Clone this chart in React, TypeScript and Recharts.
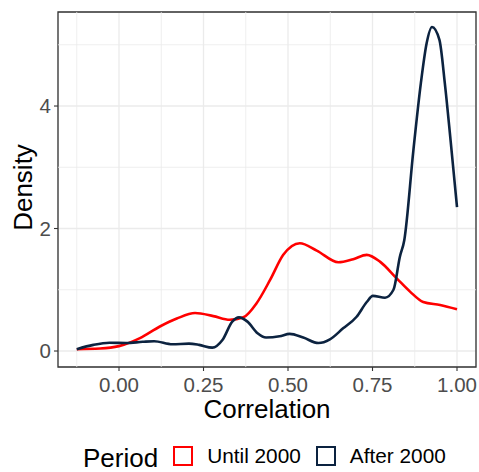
import { LineChart, Line, XAxis, YAxis, CartesianGrid, ReferenceLine, ReferenceArea } from "recharts";

const untilX = [-0.125, -0.056, 0.0, 0.062, 0.121, 0.171, 0.225, 0.279, 0.328, 0.368, 0.407, 0.447, 0.486, 0.535, 0.585, 0.649, 0.693, 0.733, 0.772, 0.821, 0.861, 0.9, 0.95, 1.0];
const untilY = [0.03, 0.04, 0.08, 0.21, 0.4, 0.53, 0.62, 0.57, 0.51, 0.55, 0.78, 1.16, 1.57, 1.76, 1.64, 1.45, 1.5, 1.57, 1.46, 1.19, 0.97, 0.8, 0.75, 0.68];

const afterX = [-0.125, -0.076, -0.028, 0.021, 0.07, 0.104, 0.158, 0.207, 0.237, 0.276, 0.306, 0.335, 0.355, 0.38, 0.41, 0.435, 0.475, 0.505, 0.545, 0.59, 0.624, 0.663, 0.703, 0.733, 0.751, 0.787, 0.812, 0.831, 0.844, 0.871, 0.893, 0.91, 0.926, 0.948, 0.964, 0.981, 1.0];
const afterY = [0.03, 0.1, 0.135, 0.13, 0.15, 0.16, 0.11, 0.12, 0.1, 0.055, 0.18, 0.48, 0.55, 0.48, 0.29, 0.22, 0.24, 0.28, 0.22, 0.13, 0.19, 0.37, 0.56, 0.8, 0.9, 0.87, 1.0, 1.54, 1.81, 3.28, 4.37, 5.02, 5.29, 5.08, 4.37, 3.44, 2.35];

const xTicks = [0, 0.25, 0.5, 0.75, 1];
const xMinor = [-0.125, 0.125, 0.375, 0.625, 0.875];
const yTicks = [0, 2, 4];
const yMinor = [1, 3, 5];

const xDomain = [-0.1805, 1.0562];
const yDomain = [-0.261, 5.535];

const RED = "#FF0000";
const NAVY = "#0C2340";
const FONT = "'Liberation Sans', Arial, sans-serif";

const untilData = untilX.map((x, i) => ({ x, y: untilY[i] }));
const afterData = afterX.map((x, i) => ({ x, y: afterY[i] }));

function LegendBox({ color }: { color: string }) {
  return <div style={{ width: 16, height: 16, border: `2px solid ${color}`, boxSizing: "content-box" }} />;
}

export default function App() {
  return (
    <div style={{ position: "absolute", left: 0, top: 0, width: 479, height: 472, background: "#fff", fontFamily: FONT }}>
      <LineChart width={479} height={472} margin={{ top: 12, right: 3, left: 0, bottom: 0 }}>
        <CartesianGrid stroke="#EBEBEB" strokeWidth={1.3} />
        {xMinor.map((v) => (
          <ReferenceLine key={"vx" + v} x={v} stroke="#EBEBEB" strokeWidth={0.8} />
        ))}
        {yMinor.map((v) => (
          <ReferenceLine key={"hy" + v} y={v} stroke="#EBEBEB" strokeWidth={0.8} />
        ))}
        <XAxis
          type="number"
          dataKey="x"
          domain={xDomain}
          ticks={xTicks}
          tickFormatter={(v: number) => v.toFixed(2)}
          allowDataOverflow
          height={105}
          axisLine={false}
          tickLine={{ stroke: "#333333", strokeWidth: 1.1 }}
          tickSize={4}
          tickMargin={6}
          tick={{ fontSize: 20.5, fill: "#4D4D4D", fontFamily: FONT }}
          label={{
            content: ({ viewBox }: any) => (
              <text x={viewBox.x + viewBox.width / 2} y={viewBox.y + 51} textAnchor="middle" fontSize={26} fill="#000" fontFamily={FONT}>
                Correlation
              </text>
            ),
          }}
        />
        <YAxis
          type="number"
          domain={yDomain}
          ticks={yTicks}
          allowDataOverflow
          width={58}
          axisLine={false}
          tickLine={{ stroke: "#333333", strokeWidth: 1.1 }}
          tickSize={4}
          tickMargin={3}
          tick={{ fontSize: 20.5, fill: "#4D4D4D", fontFamily: FONT }}
          label={{
            content: ({ viewBox }: any) => {
              const cx = 32;
              const cy = viewBox.y + viewBox.height / 2 - 2;
              return (
                <text x={cx} y={cy} transform={`rotate(-90 ${cx} ${cy})`} textAnchor="middle" fontSize={26} fill="#000" fontFamily={FONT}>
                  Density
                </text>
              );
            },
          }}
        />
        <ReferenceArea x1={xDomain[0]} x2={xDomain[1]} y1={yDomain[0]} y2={yDomain[1]} fill="none" stroke="#333333" strokeWidth={1.3} />
        <Line data={untilData} dataKey="y" type="monotone" stroke={RED} strokeWidth={2.6} dot={false} isAnimationActive={false} />
        <Line data={afterData} dataKey="y" type="monotone" stroke={NAVY} strokeWidth={2.6} dot={false} isAnimationActive={false} />
      </LineChart>
      <div style={{ position: "absolute", left: 83, top: 441, display: "flex", alignItems: "center", height: 30 }}>
        <span style={{ fontSize: 26, color: "#000", marginRight: 15, lineHeight: "30px", position: "relative", top: 2 }}>Period</span>
        <LegendBox color={RED} />
        <span style={{ fontSize: 20.8, color: "#000", marginLeft: 14, marginRight: 15 }}>Until 2000</span>
        <LegendBox color={NAVY} />
        <span style={{ fontSize: 20.8, color: "#000", marginLeft: 14 }}>After 2000</span>
      </div>
    </div>
  );
}
